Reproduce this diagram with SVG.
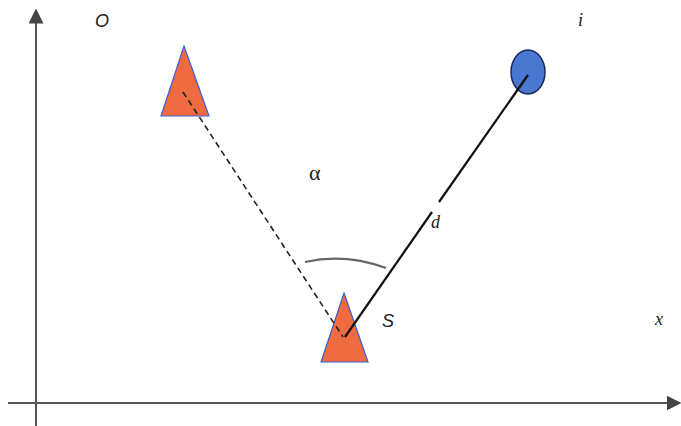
<svg xmlns="http://www.w3.org/2000/svg" width="681" height="426" viewBox="0 0 681 426">
<style>
.tri{fill:#f06a40;stroke:#3a5fd0;stroke-width:1.2}
.axis{stroke:#555;stroke-width:2;fill:none}
.lbl{font-family:"Liberation Sans",Arial,sans-serif;font-style:italic;font-size:18px;fill:#222}
.ser{font-family:"Liberation Serif","Times New Roman",serif;font-style:italic;font-size:18px;fill:#222}
.solid{stroke:#111;stroke-width:2.2}
.dash{stroke:#222;stroke-width:1.6;stroke-dasharray:6,4}
</style>
<defs>
<marker id="ah2" viewBox="0 0 10 10" refX="9" refY="5" markerWidth="15" markerHeight="15" markerUnits="userSpaceOnUse" orient="auto">
<path d="M0,0 L10,5 L0,10 z" fill="#444"/>
</marker>
</defs>
<rect width="681" height="426" fill="#fff"/>
<g id="axes">
<line class="axis" x1="36" y1="426" x2="36" y2="10" marker-end="url(#ah2)"/>
<line class="axis" x1="8" y1="403" x2="680" y2="403" marker-end="url(#ah2)"/>
</g>
<g id="source-top">
<polygon class="tri" points="184,46 209,116 161,116"/>
</g>
<g id="source-S">
<polygon class="tri" points="344,293 368,362 321,362"/>
</g>
<g id="target-i">
<ellipse cx="528" cy="72" rx="17" ry="22" fill="#4a78d0" stroke="#1a2a5a" stroke-width="1.5"/>
</g>
<g id="connectors">
<line class="dash" x1="183" y1="92" x2="343" y2="337"/>
<path d="M305,262 Q345,253 386,268" fill="none" stroke="#666" stroke-width="2"/>
<line class="solid" x1="528" y1="75" x2="439" y2="202"/>
<line class="solid" x1="432" y1="212" x2="345" y2="337"/>
</g>
<text class="lbl" x="95" y="27">O</text>
<text class="ser" x="578" y="26">i</text>
<text class="ser" x="309" y="180" style="font-style:normal;font-size:22px">α</text>
<text class="ser" x="431" y="228">d</text>
<text class="lbl" x="382" y="327">S</text>
<text class="ser" x="655" y="325">x</text>
</svg>
